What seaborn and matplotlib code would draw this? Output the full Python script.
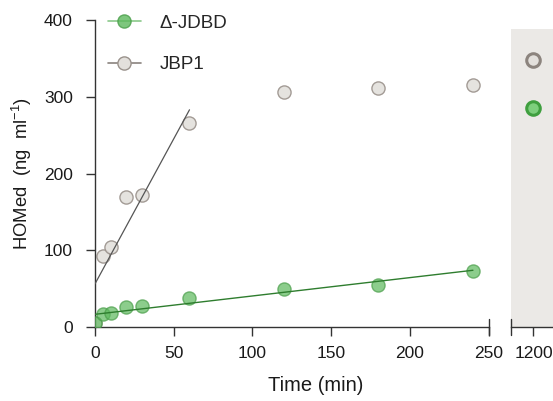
import numpy as np
import pandas as pd
import matplotlib
matplotlib.use("Agg")
import matplotlib.pyplot as plt
from matplotlib.lines import Line2D
import seaborn as sns

# ---- data ----
time_min = [0, 5, 10, 20, 30, 60, 120, 180, 240]
homed_jdbd = [5, 17, 18, 26, 27, 38, 49, 55, 73]
homed_jbp1 = [5, 93, 104, 170, 172, 266, 306, 311, 316]
late_time = [1200]
late_jdbd = [285]
late_jbp1 = [348]
jbp1_fit_max = 60
x_ticks = [0, 50, 100, 150, 200, 250]
y_ticks = [0, 100, 200, 300, 400]
late_ticks = [1200]
labels = ["Δ-JDBD", "JBP1"]

sns.set_style("ticks")
plt.rcParams["font.family"] = ["Liberation Sans", "DejaVu Sans"]
plt.rcParams["mathtext.default"] = "regular"
plt.rcParams["font.size"] = 12

GREEN_FILL = "#5cb85c"
GREEN_EDGE = "#4a9e4a"
GREEN_LINE = "#2e7d2e"
GRAY_FILL = "#e3e0dc"
GRAY_EDGE = "#9a928c"
GRAY_LINE = "#555555"
AX_COL = "#333333"
TXT = "#1a1a1a"

df = pd.DataFrame({"t": time_min, "jdbd": homed_jdbd, "jbp1": homed_jbp1})
df_fit = df[df["t"] <= jbp1_fit_max]
late = pd.DataFrame({"t": late_time, "jdbd": late_jdbd, "jbp1": late_jbp1})

fig = plt.figure(figsize=(5.53, 4.01), dpi=100)
ax = fig.add_axes([0.1718, 0.1845, 0.7119, 0.7655])
ax2 = fig.add_axes([0.924, 0.1845, 0.08, 0.7439])

ms = 90
sns.scatterplot(data=df, x="t", y="jbp1", ax=ax, s=ms, color=GRAY_FILL,
                edgecolor=GRAY_EDGE, linewidth=1.0, alpha=0.9, zorder=2)
sns.scatterplot(data=df, x="t", y="jdbd", ax=ax, s=ms, color=GREEN_FILL,
                edgecolor=GREEN_EDGE, linewidth=1.0, alpha=0.7, zorder=3)
sns.regplot(data=df_fit, x="t", y="jbp1", ax=ax, scatter=False, ci=None,
            truncate=True, line_kws=dict(color=GRAY_LINE, lw=0.9, zorder=4))
sns.regplot(data=df, x="t", y="jdbd", ax=ax, scatter=False, ci=None,
            truncate=True, line_kws=dict(color=GREEN_LINE, lw=1.0, zorder=4))

ax.set_xlim(0, 250)
ax.set_ylim(0, 400)
ax.set_xticks(x_ticks)
ax.set_yticks(y_ticks)
ax.set_xlabel("Time (min)", fontsize=14.5, color=TXT)
ax.set_ylabel("HOMed  (ng  ml$^{-1}$)", fontsize=13.3, color=TXT)
ax.xaxis.set_label_coords(0.561, -0.16)
ax.yaxis.set_label_coords(-0.156, 0.5)
sns.despine(ax=ax)
for sp in ["left", "bottom"]:
    ax.spines[sp].set_color(AX_COL)
    ax.spines[sp].set_linewidth(1.0)
ax.tick_params(axis="both", length=6.5, width=1.0, color=AX_COL,
               labelsize=12.5, labelcolor=TXT)
ax.tick_params(axis="x", pad=7.5)
ax.tick_params(axis="y", pad=9.5)

# right panel (late time point)
ax2.set_facecolor("#ebe9e6")
sns.scatterplot(data=late, x="t", y="jbp1", ax=ax2, s=95, color=GRAY_FILL,
                edgecolor="#8c847e", linewidth=2.2, zorder=3)
sns.scatterplot(data=late, x="t", y="jdbd", ax=ax2, s=95, color="#7dcf7d",
                edgecolor="#3f9f3f", linewidth=2.2, zorder=3)
ax2.set_xlim(1171, 1228)
ax2.set_ylim(0, 388.6)
ax2.set_xticks(late_ticks)
ax2.set_yticks([])
ax2.set_xlabel("")
ax2.set_ylabel("")
for sp in ["left", "right", "top"]:
    ax2.spines[sp].set_visible(False)
ax2.spines["bottom"].set_color(AX_COL)
ax2.spines["bottom"].set_linewidth(1.0)
ax2.tick_params(axis="x", length=6.5, width=1.0, color=AX_COL, pad=7.5,
                labelsize=12.5, labelcolor=TXT)

# axis break caps
cap = 8 / 307
ax.plot([1, 1], [-cap, cap], transform=ax.transAxes, color=AX_COL, lw=1.0, clip_on=False)
ax2.plot([0, 0], [-cap * 307 / 298.3, cap * 307 / 298.3], transform=ax2.transAxes,
         color=AX_COL, lw=1.0, clip_on=False)

handles = [
    Line2D([], [], color="#6dbb6d", lw=1.2, marker="o", markersize=9.5,
           markerfacecolor=GREEN_FILL, markeredgecolor=GREEN_EDGE, alpha=0.8),
    Line2D([], [], color="#8a837e", lw=1.2, marker="o", markersize=9.5,
           markerfacecolor=GRAY_FILL, markeredgecolor=GRAY_EDGE),
]
ax.legend(handles, labels, loc="upper left", bbox_to_anchor=(0.033, 1.017),
          frameon=False, borderaxespad=0, borderpad=0, handlelength=1.75,
          handletextpad=1.0, labelspacing=1.3, fontsize=13.5)

fig.savefig("out.png", dpi=100)
